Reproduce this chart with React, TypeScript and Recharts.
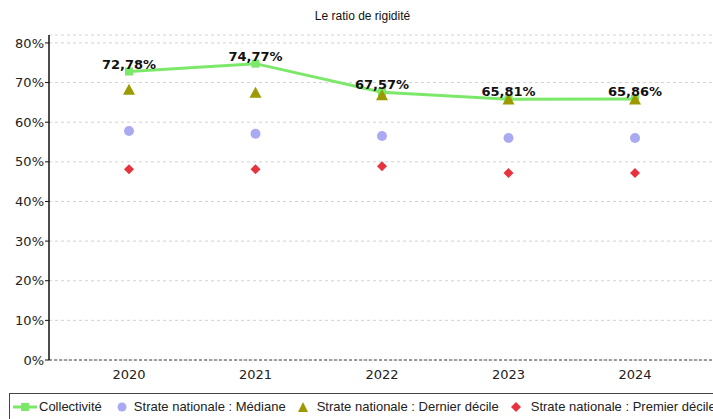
import { useEffect } from 'react'
import {
  LineChart,
  Line,
  XAxis,
  YAxis,
  CartesianGrid,
  Legend,
  LabelList,
} from 'recharts'

const YEARS = ['2020', '2021', '2022', '2023', '2024']
const COLLECTIVITE = [72.78, 74.77, 67.57, 65.81, 65.86]
const MEDIANE = [57.8, 57.1, 56.5, 56.0, 56.0]
const DERNIER_DECILE = [68.2, 67.4, 66.8, 65.7, 65.7]
const PREMIER_DECILE = [48.1, 48.1, 48.9, 47.2, 47.2]
const Y_TICKS = [0, 10, 20, 30, 40, 50, 60, 70, 80]

const data = YEARS.map((year, i) => ({
  year,
  collectivite: COLLECTIVITE[i],
  mediane: MEDIANE[i],
  dernier: DERNIER_DECILE[i],
  premier: PREMIER_DECILE[i],
}))

const GREEN = '#7be86a'
const BLUE = '#aaaaf2'
const OLIVE = '#9c9a00'
const RED = '#e8333f'

const fmt = (v: number) => v.toFixed(2).replace('.', ',') + '%'

function Square(props: any) {
  const { cx, cy } = props
  if (cx == null || cy == null) return null
  return <rect x={cx - 4} y={cy - 4} width={8} height={8} fill={GREEN} />
}

function Circle(props: any) {
  const { cx, cy } = props
  if (cx == null || cy == null) return null
  return <circle cx={cx} cy={cy} r={5} fill={BLUE} />
}

function Triangle(props: any) {
  const { cx, cy } = props
  if (cx == null || cy == null) return null
  return <path d={`M${cx},${cy - 6} L${cx + 6},${cy + 5} L${cx - 6},${cy + 5} Z`} fill={OLIVE} />
}

function Diamond(props: any) {
  const { cx, cy } = props
  if (cx == null || cy == null) return null
  return <path d={`M${cx},${cy - 5} L${cx + 5},${cy} L${cx},${cy + 5} L${cx - 5},${cy} Z`} fill={RED} />
}

const legendItems = [
  { label: 'Collectivité', icon: 'line' },
  { label: 'Strate nationale : Médiane', icon: 'circle' },
  { label: 'Strate nationale : Dernier décile', icon: 'triangle' },
  { label: 'Strate nationale : Premier décile', icon: 'diamond' },
]

function LegendIcon({ type }: { type: string }) {
  if (type === 'line')
    return (
      <svg width={24} height={12} style={{ marginRight: 2 }}>
        <line x1={0} y1={6} x2={24} y2={6} stroke={GREEN} strokeWidth={3} />
        <rect x={8} y={2} width={8} height={8} fill={GREEN} />
      </svg>
    )
  if (type === 'circle')
    return (
      <svg width={12} height={12} style={{ marginRight: 6 }}>
        <circle cx={6} cy={6} r={4.5} fill={BLUE} />
      </svg>
    )
  if (type === 'triangle')
    return (
      <svg width={12} height={12} style={{ marginRight: 8 }}>
        <path d="M6,1 L11,11 L1,11 Z" fill={OLIVE} />
      </svg>
    )
  return (
    <svg width={12} height={12} style={{ marginRight: 9 }}>
      <path d="M6,1 L11,6 L6,11 L1,6 Z" fill={RED} />
    </svg>
  )
}

function renderLegend() {
  return (
    <div
      style={{
        height: 26,
        borderTop: '1.5px solid #444',
        borderLeft: '1.5px solid #444',
        display: 'flex',
        alignItems: 'center',
        whiteSpace: 'nowrap',
        fontFamily: '"Liberation Sans", Arial, sans-serif',
        fontSize: 13,
        color: '#222',
        paddingLeft: 3,
        boxSizing: 'border-box',
      }}
    >
      {legendItems.map((it, i) => (
        <span
          key={it.label}
          style={{ display: 'inline-flex', alignItems: 'center', marginRight: i === 0 ? 14 : 11 }}
        >
          <LegendIcon type={it.icon} />
          {it.label}
        </span>
      ))}
    </div>
  )
}

export default function App() {
  useEffect(() => {
    document.body.style.margin = '0'
    document.body.style.overflow = 'hidden'
  }, [])

  const tick = { fill: '#222', fontSize: 13, fontFamily: '"DejaVu Sans", sans-serif' }

  return (
    <div style={{ position: 'relative', width: 713, height: 419, overflow: 'hidden', background: '#fff' }}>
      <div
        style={{
          position: 'absolute',
          top: 9,
          left: 0,
          width: 725,
          textAlign: 'center',
          fontFamily: '"Liberation Sans", Arial, sans-serif',
          fontSize: 12,
          color: '#111',
          zIndex: 2,
        }}
      >
        Le ratio de rigidité
      </div>
      <LineChart width={713} height={419} data={data} margin={{ top: 35, right: 0, left: 0, bottom: 0 }}>
        <CartesianGrid vertical={false} stroke="#d2d2d2" strokeDasharray="3 3" />
        <XAxis
          dataKey="year"
          padding={{ left: 80, right: 78 }}
          tick={tick}
          tickLine={false}
          axisLine={{ stroke: '#444', strokeDasharray: '3 2' }}
          height={33}
          tickMargin={4}
        />
        <YAxis
          domain={[0, 82]}
          ticks={Y_TICKS}
          tickFormatter={(v) => `${v}%`}
          tick={tick}
          tickSize={4}
          tickMargin={1}
          axisLine={{ stroke: '#111', strokeWidth: 1.5 }}
          tickLine={{ stroke: '#111' }}
          width={49}
          interval={0}
        />
        <Legend verticalAlign="bottom" content={renderLegend} wrapperStyle={{ left: 9, width: 720, height: 26 }} />
        <Line
          dataKey="collectivite"
          name="Collectivité"
          stroke={GREEN}
          strokeWidth={3}
          dot={<Square />}
          activeDot={false}
          isAnimationActive={false}
        >
          <LabelList
            dataKey="collectivite"
            position="top"
            offset={3}
            formatter={(v: any) => fmt(Number(v))}
            style={{ fill: '#111', fontSize: 13, fontWeight: 'bold', fontFamily: '"DejaVu Sans", sans-serif' }}
          />
        </Line>
        <Line
          dataKey="mediane"
          name="Strate nationale : Médiane"
          stroke="none"
          dot={<Circle />}
          activeDot={false}
          isAnimationActive={false}
        />
        <Line
          dataKey="dernier"
          name="Strate nationale : Dernier décile"
          stroke="none"
          dot={<Triangle />}
          activeDot={false}
          isAnimationActive={false}
        />
        <Line
          dataKey="premier"
          name="Strate nationale : Premier décile"
          stroke="none"
          dot={<Diamond />}
          activeDot={false}
          isAnimationActive={false}
        />
      </LineChart>
    </div>
  )
}
